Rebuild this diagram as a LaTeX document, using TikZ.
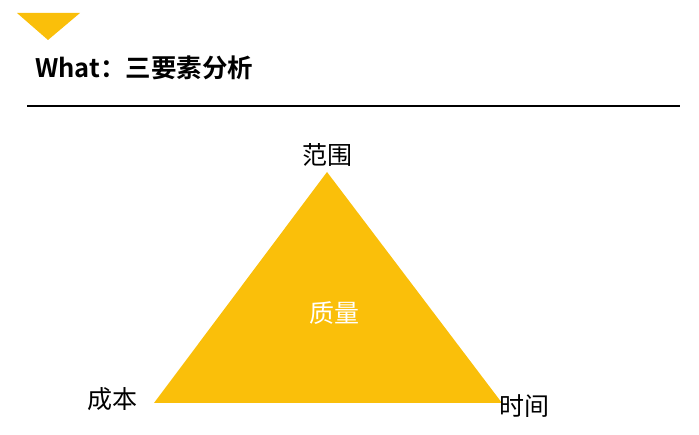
\documentclass[tikz,border=0pt]{standalone}
\usepackage{fontspec}
\newfontfamily\cjk{Noto Sans CJK SC}
\newfontfamily\cjkbold{Noto Sans CJK SC Bold}
\usetikzlibrary{positioning}
\definecolor{tri-yellow}{RGB}{250,191,10}

\begin{document}
\begin{tikzpicture}[
        x=1pt, y=-1pt,
        corner-label/.style={
            font=\cjk\fontsize{25}{25}\selectfont,
            inner sep=0pt,
        },
    ]
    \useasboundingbox (0, 0) rectangle (699, 435);

    % heading
    \fill[tri-yellow] (17, 13) -- (80, 13) -- (48, 40) -- cycle;
    \node[anchor=west, inner sep=0pt, font=\cjkbold\fontsize{25.5}{25.5}\selectfont] (title) at (35, 68) {What：三要素分析};
    \coordinate (rule-left) at (27, 106);
    \coordinate (rule-right) at (680, 106);
    \draw[line width=1.6pt] (rule-left) -- (rule-right);

    % triangle
    \coordinate (scope) at (327, 172);
    \coordinate (cost) at (154, 403);
    \coordinate (time) at (502, 403);
    \fill[tri-yellow] (scope) -- (cost) -- (time) -- cycle;

    \node[corner-label] (scope-label) at (327, 155) {范围};
    \node[corner-label] (cost-label) at (112, 399) {成本};
    \node[corner-label] (time-label) at (524, 406) {时间};
    \node[corner-label, text=white] (quality-label) at (334, 313) {质量};
\end{tikzpicture}
\end{document}
